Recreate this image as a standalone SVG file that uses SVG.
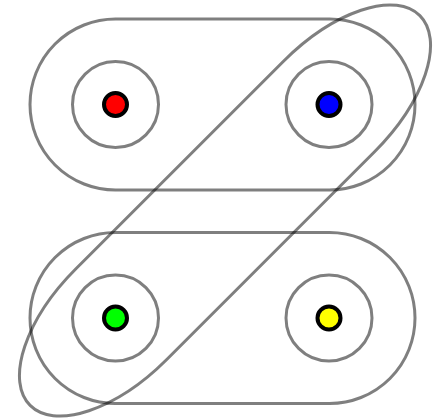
<svg xmlns="http://www.w3.org/2000/svg" width="436" height="419" viewBox="0 0 436 419">
<style>
.set{fill:none;stroke:#000;stroke-opacity:0.5;stroke-width:3}
.dot{stroke:#000;stroke-width:4}
</style>
<rect width="436" height="419" fill="#fff"/>
<g id="connectors">
<rect id="top-set" class="set" x="30" y="19" width="385" height="171" rx="85.5" ry="85.5"/>
<rect id="bottom-set" class="set" x="30" y="232.5" width="385" height="171" rx="85.5" ry="85.5"/>
<rect id="diagonal-set" class="set" x="-50.6" y="146.3" width="551.2" height="128.4" rx="129" ry="64.2" transform="rotate(-45 225 210.5)"/>
</g>
<g id="node-red"><circle class="set" cx="115.5" cy="104.5" r="43"/><circle class="dot" cx="115.5" cy="104.5" r="11.5" fill="#ff0000"/></g>
<g id="node-blue"><circle class="set" cx="329" cy="104.5" r="43"/><circle class="dot" cx="329" cy="104.5" r="11.5" fill="#0000ff"/></g>
<g id="node-green"><circle class="set" cx="115.5" cy="318" r="43"/><circle class="dot" cx="115.5" cy="318" r="11.5" fill="#00ff00"/></g>
<g id="node-yellow"><circle class="set" cx="329" cy="318" r="43"/><circle class="dot" cx="329" cy="318" r="11.5" fill="#ffff00"/></g>
</svg>
